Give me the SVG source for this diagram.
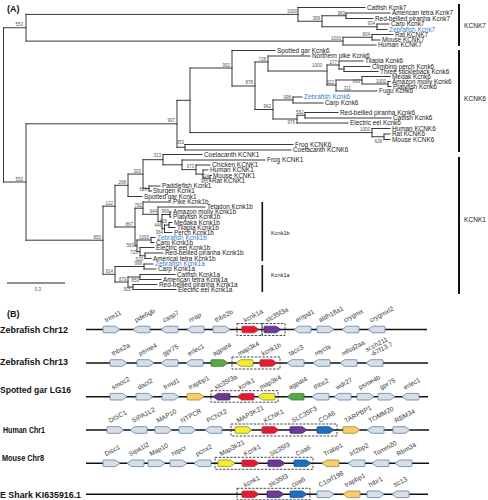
<svg xmlns="http://www.w3.org/2000/svg" xmlns:xlink="http://www.w3.org/1999/xlink" width="488" height="500" viewBox="0 0 488 500">
<style>
text{font-family:"Liberation Sans",Arial,sans-serif}
.br{fill:none;stroke:#222;stroke-width:0.9;stroke-linecap:square}
.lf{font-size:6.4px;fill:#222}
.bl{font-size:6.4px;fill:#3b7ec9}
.bs{font-size:4.5px;fill:#555;text-anchor:end}
.cl{font-size:6.6px;fill:#222}
.bar{fill:#111}
.hd{font-size:9px;font-weight:bold;fill:#111}
.rl{font-size:9px;font-weight:bold;fill:#111}
.chr{stroke:#111;stroke-width:1.6}
.box{fill:none;stroke:#333;stroke-width:0.9;stroke-dasharray:2.4 1.4}
.gl{font-size:6.6px;fill:#3a3a3a}
.g{fill:#dddddd;stroke:#5d8ec9;stroke-width:0.9}
.r{fill:#e8192c;stroke:#9a3a48;stroke-width:0.8}
.p{fill:#6a3a95;stroke:#4b2a70;stroke-width:0.8}
.y{fill:#f4ee2c;stroke:#8a8a3a;stroke-width:0.8}
.gn{fill:#5aa845;stroke:#3d7a30;stroke-width:0.8}
.o{fill:#f8cf66;stroke:#9a8446;stroke-width:0.8}
.b{fill:#1c6fc2;stroke:#1b4f8a;stroke-width:0.8}
</style>
<defs>
<path id="R" d="M0.8,-3.3H12.3L17,0L12.3,3.3H0.8Q0,3.3 0,2.5V-2.5Q0,-3.3 0.8,-3.3Z"/>
<path id="L" d="M16.2,-3.3H4.7L0,0L4.7,3.3H16.2Q17,3.3 17,2.5V-2.5Q17,-3.3 16.2,-3.3Z"/>
</defs>
<rect width="488" height="500" fill="#fff"/>
<text class="hd" x="7" y="12">(A)</text>
<g id="tree-branches" class="br">
<path d="M3.5,27.75V182M3.5,27.75H26M3.5,182H26"/>
<path d="M26,14.4V41.1M26,14.4H298M298,7.5V21.25M298,7.5H365M298,21.25H322M322,15.75V26.75M322,15.75H346M346,13V18.5M346,13H390M346,18.5H373M322,26.75H377M377,24V29.5M377,24H389M377,29.5H387M26,41.1H343M343,37.25V45M343,37.25H372M372,34.5V40M372,34.5H393M372,40H380M343,45H376"/>
<path d="M26,123.8V240.2M26,123.8H177M177,100.3V147.25M177,100.3H190M190,68V132.6M190,68H232M232,50.5V86M232,50.5H275M232,86H255M255,62V109.5M255,62H268M268,56V71M268,56H310M268,71H327M327,65V85M327,65H339M339,61V69M339,61H363M339,69H344M344,66.5V71.5M344,66.5H370M344,71.5H378M327,85H336M336,80V91M336,80H362M362,76.5V84M362,76.5H390M362,84H388M388,81.5V86.5M388,81.5H390M388,86.5H391M336,91H377"/>
<path d="M255,109.5H273M273,100V119M273,100H293M293,97V103M293,97H302M293,103H323M273,119H297M297,115.25V123M297,115.25H305M305,112.5V118M305,112.5H338M305,118H391M297,123H348M190,132.6H372M372,128.5V136.75M372,128.5H390M372,136.75H384M384,134V139.5M384,134H390M384,139.5H390M177,147.25H185M185,144.5V150M185,144.5H293M185,150H291"/>
<path d="M26,240.2H103M103,206.2V274.25M103,206.2H115M115,185.3V227M115,185.3H128M128,174.1V196.5M128,174.1H143M143,159.7V188.5M143,159.7H163M163,154.5V164.8M163,154.5H202M163,164.8H182M182,160V169.6M182,160H265M182,169.6H196M196,165V174.1M196,165H210M196,174.1H203M203,170V178.25M203,170H208M203,178.25H210M210,175.5V181M210,175.5H211.5M210,181H211M143,188.5H149M149,186V191M149,186H160M149,191H151.5M128,196.5H142"/>
<path d="M115,227H135M135,208.2V245.8M135,208.2H143M143,202V214.3M143,202H171M143,214.3H158M158,207V221.6M158,207H205M158,221.6H162M162,214.5V228.75M162,214.5H170M170,212V217M170,212H171M170,217H171M162,228.75H164.5M164.5,225V232.5M164.5,225H169M169,222.5V227.5M169,222.5H172M169,227.5H175M164.5,232.5H172M135,245.8H137M137,240V251.6M137,240H151M151,237.5V242.5M151,237.5H155M151,242.5H154M137,251.6H140M140,247.5V255.75M140,247.5H154M140,255.75H145M145,253V258.5M145,253H163M145,258.5H151"/>
<path d="M103,274.25H115M115,266.5V282M115,266.5H144M144,264V269M144,264H153M144,269H156M115,282H128M128,277V287M128,277H140M140,274.5V279.5M140,274.5H175M140,279.5H161M128,287H133M133,284.5V289.5M133,284.5H157M133,289.5H176"/>
</g>
<g id="clade-kcnk7">
<text class="lf" x="367" y="9.8">Catfish Kcnk7</text>
<text class="lf" x="392" y="15.3">American tetra Kcnk7</text>
<text class="lf" x="375" y="20.8">Red-bellied piranha Kcnk7</text>
<text class="lf" x="391" y="26.3">Carp Kcnk7</text>
<text class="bl" x="389" y="31.8">Zebrafish Kcnk7</text>
<text class="lf" x="395" y="36.8">Rat KCNK7</text>
<text class="lf" x="382" y="42.3">Mouse KCNK7</text>
<text class="lf" x="378" y="47.3">Human KCNK7</text>
</g>
<g id="clade-kcnk6">
<text class="lf" x="277" y="52.8">Spotted gar Kcnk6</text>
<text class="lf" x="312" y="58.3">Northern pike Kcnk6</text>
<text class="lf" x="365" y="63.3">Tilapia Kcnk6</text>
<text class="lf" x="372" y="68.8">Climbing perch Kcnk6</text>
<text class="lf" x="380" y="73.8">Three stickleback Kcnk6</text>
<text class="lf" x="392" y="78.8">Medak Kcnk6</text>
<text class="lf" x="392" y="83.8">Amazon molly Kcnk6</text>
<text class="lf" x="393" y="88.8">Platyfish Kcnk6</text>
<text class="lf" x="379" y="93.3">Fugu Kcnk6</text>
<text class="bl" x="304" y="99.3">Zebrafish Kcnk6</text>
<text class="lf" x="325" y="105.3">Carp Kcnk6</text>
<text class="lf" x="340" y="114.8">Red-bellied piranha Kcnk6</text>
<text class="lf" x="393" y="120.3">Catfish Kcnk6</text>
<text class="lf" x="350" y="125.3">Electric eel Kcnk6</text>
<text class="lf" x="392" y="130.8">Human KCNK6</text>
<text class="lf" x="392" y="136.3">Rat KCNK6</text>
<text class="lf" x="392" y="141.8">Mouse KCNK6</text>
<text class="lf" x="295" y="146.8">Frog KCNK6</text>
<text class="lf" x="293" y="152.3">Coelacanth KCNK6</text>
</g>
<g id="clade-kcnk1">
<text class="lf" x="204" y="156.8">Coelacanth KCNK1</text>
<text class="lf" x="267" y="162.3">Frog KCNK1</text>
<text class="lf" x="212" y="167.3">Chicken KCNK1</text>
<text class="lf" x="210" y="172.3">Human KCNK1</text>
<text class="lf" x="213" y="177.8">Mouse KCNK1</text>
<text class="lf" x="212" y="183.3">Rat KCNK1</text>
<text class="lf" x="162" y="188.3">Paddlefish Kcnk1</text>
<text class="lf" x="153" y="193.3">Sturgen Kcnk1</text>
<text class="lf" x="144" y="198.8">Spotted gar Kcnk1</text>
</g>
<g id="clade-kcnk1b">
<text class="lf" x="173" y="204.3">Pike Kcnk1b</text>
<text class="lf" x="207" y="209.3">Tetadon Kcnk1b</text>
<text class="lf" x="173" y="214.3">Amazon molly Kcnk1b</text>
<text class="lf" x="173" y="219.3">Platyfish Kcnk1b</text>
<text class="lf" x="174" y="224.6">Medaka Kcnk1b</text>
<text class="lf" x="177" y="229.7">Tilapia Kcnk1b</text>
<text class="lf" x="174" y="234.8">Perch Kcnk1b</text>
<text class="bl" x="157" y="239.8">Zebrafish Kcnk1b</text>
<text class="lf" x="156" y="244.8">Carp Kcnk1b</text>
<text class="lf" x="156" y="249.8">Electric eel Kcnk1b</text>
<text class="lf" x="165" y="255.3">Red-bellied piranha Kcnk1b</text>
<text class="lf" x="153" y="260.8">Americal tetra Kcnk1b</text>
</g>
<g id="clade-kcnk1a">
<text class="bl" x="155" y="266.3">Zebrafish Kcnk1a</text>
<text class="lf" x="158" y="271.3">Carp Kcnk1a</text>
<text class="lf" x="177" y="276.8">Catfish Kcnk1a</text>
<text class="lf" x="163" y="281.8">American tetra Kcnk1a</text>
<text class="lf" x="159" y="286.8">Red-bellied piranha Kcnk1a</text>
<text class="lf" x="178" y="291.8">Electric eel Kcnk1a</text>
</g>
<g id="bootstrap">
<text class="bs" x="297" y="13">1000</text>
<text class="bs" x="345" y="14.5">983</text>
<text class="bs" x="320" y="19.8">389</text>
<text class="bs" x="375" y="25.3">934</text>
<text class="bs" x="370" y="35.8">804</text>
<text class="bs" x="341" y="39.6">1000</text>
<text class="bs" x="23" y="26.3">553</text>
<text class="bs" x="230" y="66.5">992</text>
<text class="bs" x="253" y="84.3">878</text>
<text class="bs" x="266" y="60.5">728</text>
<text class="bs" x="322" y="67">1000</text>
<text class="bs" x="337" y="63.6">277</text>
<text class="bs" x="334" y="83.5">322</text>
<text class="bs" x="360" y="82.5">693</text>
<text class="bs" x="386" y="82.5">1000</text>
<text class="bs" x="351" y="89.5">311</text>
<text class="bs" x="291" y="98.5">998</text>
<text class="bs" x="271" y="108">962</text>
<text class="bs" x="303.5" y="113.8">582</text>
<text class="bs" x="295" y="123.5">976</text>
<text class="bs" x="370" y="131">1000</text>
<text class="bs" x="382" y="143">628</text>
<text class="bs" x="175" y="122.3">997</text>
<text class="bs" x="184" y="144">353</text>
<text class="bs" x="161" y="157">313</text>
<text class="bs" x="194" y="168.1">973</text>
<text class="bs" x="209" y="177.5">924</text>
<text class="bs" x="208.3" y="183.4">985</text>
<text class="bs" x="141" y="172.6">303</text>
<text class="bs" x="147" y="190.5">626</text>
<text class="bs" x="126" y="183.8">268</text>
<text class="bs" x="113" y="204.7">122</text>
<text class="bs" x="142" y="206.7">782</text>
<text class="bs" x="157" y="212.8">944</text>
<text class="bs" x="169" y="213">999</text>
<text class="bs" x="167" y="222.8">626</text>
<text class="bs" x="162" y="226.5">446</text>
<text class="bs" x="163" y="233.5">364</text>
<text class="bs" x="133" y="225.5">867</text>
<text class="bs" x="149" y="238.5">1000</text>
<text class="bs" x="134" y="246.5">583</text>
<text class="bs" x="137.5" y="253.5">725</text>
<text class="bs" x="143" y="260.5">520</text>
<text class="bs" x="101" y="238.7">850</text>
<text class="bs" x="142" y="265">998</text>
<text class="bs" x="113" y="272.7">914</text>
<text class="bs" x="126.5" y="280.5">879</text>
<text class="bs" x="139" y="281.5">850</text>
<text class="bs" x="131" y="291">505</text>
<text class="bs" x="23" y="180.5">553</text>
</g>
<g id="clade-bars">
<rect class="bar" x="458" y="4" width="2" height="42"/>
<text class="cl" x="464" y="28">KCNK7</text>
<rect class="bar" x="458" y="50" width="2" height="102"/>
<text class="cl" x="464" y="101">KCNK6</text>
<rect class="bar" x="458" y="157" width="2" height="137"/>
<text class="cl" x="464" y="222">KCNK1</text>
<rect class="bar" x="261.5" y="202" width="1.6" height="59"/>
<text class="cl" x="271" y="235" style="font-size:5.6px">Kcnk1b</text>
<rect class="bar" x="261.5" y="265" width="1.6" height="27"/>
<text class="cl" x="271" y="277" style="font-size:5.6px">Kcnk1a</text>
</g>
<g id="scale">
<path d="M7,283H65" stroke="#222" stroke-width="1"/>
<text class="bs" x="38" y="291" style="text-anchor:middle">0.3</text>
</g>

<text class="hd" x="7" y="317">(B)</text>
<g id="row-labels">
<text class="rl" x="0" y="332.5" textLength="68" lengthAdjust="spacingAndGlyphs">Zebrafish Chr12</text>
<text class="rl" x="0" y="365" textLength="68" lengthAdjust="spacingAndGlyphs">Zebrafish Chr13</text>
<text class="rl" x="0" y="392.5" textLength="71" lengthAdjust="spacingAndGlyphs">Spotted gar LG16</text>
<text class="rl" x="3" y="432.5" textLength="42" lengthAdjust="spacingAndGlyphs">Human Chr1</text>
<text class="rl" x="2" y="461" textLength="42" lengthAdjust="spacingAndGlyphs">Mouse Chr8</text>
<text class="rl" x="0" y="497.5" textLength="81" lengthAdjust="spacingAndGlyphs">E Shark KI635916.1</text>
</g>
<g id="chromosomes">
<path class="chr" d="M86,329.5H427M86,363H428M86,396.7H428M86,430H429M86,463.3H429M86,494.3H428"/>
</g>
<g id="boxes">
<rect class="box" x="237" y="323.5" width="25" height="12"/>
<rect class="box" x="262" y="323.5" width="23" height="12"/>
<rect class="box" x="232" y="357" width="48" height="12"/>
<rect class="box" x="211" y="390.7" width="67" height="11.5"/>
<rect class="box" x="231" y="424" width="106" height="12"/>
<rect class="box" x="215" y="457.3" width="98" height="12"/>
<rect class="box" x="237" y="488.3" width="73" height="11.5"/>
</g>
<g id="row1">
<use href="#R" x="103" y="329.5" class="g"/>
<use href="#L" x="133" y="329.5" class="g"/>
<use href="#L" x="161" y="329.5" class="g"/>
<use href="#L" x="187" y="329.5" class="g"/>
<use href="#R" x="213" y="329.5" class="g"/>
<use href="#R" x="242" y="329.5" class="r"/>
<use href="#R" x="264" y="329.5" class="p"/>
<use href="#L" x="294" y="329.5" class="g"/>
<use href="#R" x="317" y="329.5" class="g"/>
<use href="#L" x="342" y="329.5" class="g"/>
<use href="#L" x="368" y="329.5" class="g"/>
<g class="gl">
<text transform="translate(106,322.5) rotate(-28)">trim11</text>
<text transform="translate(136,322.5) rotate(-28)">pde6gb</text>
<text transform="translate(164,322.5) rotate(-28)">casp7</text>
<text transform="translate(190,322.5) rotate(-28)">nrap</text>
<text transform="translate(216,322.5) rotate(-28)">thbs2b</text>
<text transform="translate(245,322.5) rotate(-28)">kcnk1a</text>
<text transform="translate(267,322.5) rotate(-28)">slc35f3a</text>
<text transform="translate(297,322.5) rotate(-28)">entpd1</text>
<text transform="translate(320,322.5) rotate(-28)">aldh18a1</text>
<text transform="translate(345,322.5) rotate(-28)">crygmx</text>
<text transform="translate(371,322.5) rotate(-28)">crygmxl2</text>
</g>
</g>
<g id="row2">
<use href="#R" x="110" y="363" class="g"/>
<use href="#R" x="137" y="363" class="g"/>
<use href="#L" x="161" y="363" class="g"/>
<use href="#L" x="186" y="363" class="g"/>
<use href="#R" x="211" y="363" class="gn"/>
<use href="#L" x="236" y="363" class="y"/>
<use href="#R" x="260" y="363" class="r"/>
<use href="#L" x="287" y="363" class="g"/>
<use href="#L" x="313" y="363" class="g"/>
<use href="#L" x="340" y="363" class="g"/>
<use href="#L" x="366" y="363" class="g"/>
<g class="gl">
<text transform="translate(113,356) rotate(-28)">thbs2a</text>
<text transform="translate(140,356) rotate(-28)">psme4</text>
<text transform="translate(164,356) rotate(-28)">gpr75</text>
<text transform="translate(189,356) rotate(-28)">erlec1</text>
<text transform="translate(214,356) rotate(-28)">agpat4</text>
<text transform="translate(239,356) rotate(-28)">map3k4</text>
<text transform="translate(263,356) rotate(-28)">kcnk1b</text>
<text transform="translate(290,356) rotate(-28)">tacc3</text>
<text transform="translate(316,356) rotate(-28)">mycla</text>
<text transform="translate(343,356) rotate(-28)">mfsd2aa</text>
<text transform="translate(367,352) rotate(-28)">si:ch211<tspan x="2" dy="6.5">-67f13.7</tspan></text>
</g>
</g>
<g id="row3">
<use href="#R" x="110" y="396.7" class="g"/>
<use href="#R" x="136" y="396.7" class="g"/>
<use href="#R" x="162" y="396.7" class="g"/>
<use href="#R" x="187" y="396.7" class="o"/>
<use href="#L" x="213" y="396.7" class="p"/>
<use href="#L" x="237" y="396.7" class="r"/>
<use href="#L" x="258" y="396.7" class="y"/>
<use href="#L" x="287" y="396.7" class="gn"/>
<use href="#L" x="312" y="396.7" class="g"/>
<use href="#L" x="334" y="396.7" class="g"/>
<use href="#R" x="357" y="396.7" class="g"/>
<use href="#R" x="378" y="396.7" class="g"/>
<use href="#L" x="402" y="396.7" class="g"/>
<g class="gl">
<text transform="translate(113,389.7) rotate(-28)">smoc2</text>
<text transform="translate(139,389.7) rotate(-28)">dact2</text>
<text transform="translate(165,389.7) rotate(-28)">frmd1</text>
<text transform="translate(190,389.7) rotate(-28)">trapbp1</text>
<text transform="translate(216,389.7) rotate(-28)">slc35f3a</text>
<text transform="translate(240,389.7) rotate(-28)">kcnk1</text>
<text transform="translate(261,389.7) rotate(-28)">map3k4</text>
<text transform="translate(290,389.7) rotate(-28)">agpat4</text>
<text transform="translate(315,389.7) rotate(-28)">thbs2</text>
<text transform="translate(337,389.7) rotate(-28)">wdr27</text>
<text transform="translate(360,389.7) rotate(-28)">psme4b</text>
<text transform="translate(381,389.7) rotate(-28)">gpr75</text>
<text transform="translate(405,389.7) rotate(-28)">erlec1</text>
</g>
</g>
<g id="row4">
<use href="#R" x="107" y="430" class="g"/>
<use href="#L" x="130" y="430" class="g"/>
<use href="#R" x="155" y="430" class="g"/>
<use href="#R" x="179" y="430" class="g"/>
<use href="#L" x="205" y="430" class="g"/>
<use href="#R" x="235" y="430" class="y"/>
<use href="#R" x="262" y="430" class="r"/>
<use href="#R" x="290" y="430" class="p"/>
<use href="#R" x="317" y="430" class="b"/>
<use href="#R" x="343" y="430" class="o"/>
<use href="#L" x="367" y="430" class="g"/>
<use href="#R" x="393" y="430" class="g"/>
<g class="gl">
<text transform="translate(110,423) rotate(-28)">DISC1</text>
<text transform="translate(133,423) rotate(-28)">SIPA1L2</text>
<text transform="translate(158,423) rotate(-28)">MAP10</text>
<text transform="translate(182,423) rotate(-28)">NTPCR</text>
<text transform="translate(208,423) rotate(-28)">PCNX2</text>
<text transform="translate(238,423) rotate(-28)">MAP3K21</text>
<text transform="translate(265,423) rotate(-28)">KCNK1</text>
<text transform="translate(293,423) rotate(-28)">SLC35F3</text>
<text transform="translate(320,423) rotate(-28)">COA6</text>
<text transform="translate(346,423) rotate(-28)">TARPBP1</text>
<text transform="translate(370,423) rotate(-28)">TOMM20</text>
<text transform="translate(396,423) rotate(-28)">RBM34</text>
</g>
</g>
<g id="row5">
<use href="#R" x="103" y="463.3" class="g"/>
<use href="#L" x="127" y="463.3" class="g"/>
<use href="#R" x="148" y="463.3" class="g"/>
<use href="#R" x="170" y="463.3" class="g"/>
<use href="#L" x="194" y="463.3" class="g"/>
<use href="#R" x="218" y="463.3" class="y"/>
<use href="#R" x="242" y="463.3" class="r"/>
<use href="#R" x="268" y="463.3" class="p"/>
<use href="#R" x="294" y="463.3" class="b"/>
<use href="#L" x="322" y="463.3" class="o"/>
<use href="#L" x="348" y="463.3" class="g"/>
<use href="#L" x="372" y="463.3" class="g"/>
<use href="#L" x="395" y="463.3" class="g"/>
<g class="gl">
<text transform="translate(106,456.3) rotate(-28)">Disc1</text>
<text transform="translate(130,456.3) rotate(-28)">Sipa1l2</text>
<text transform="translate(151,456.3) rotate(-28)">Map10</text>
<text transform="translate(173,456.3) rotate(-28)">Ntpcr</text>
<text transform="translate(197,456.3) rotate(-28)">pcnx2</text>
<text transform="translate(221,456.3) rotate(-28)">Map3k21</text>
<text transform="translate(245,456.3) rotate(-28)">Kcnk1</text>
<text transform="translate(271,456.3) rotate(-28)">Slc35f3</text>
<text transform="translate(297,456.3) rotate(-28)">Coa6</text>
<text transform="translate(325,456.3) rotate(-28)">Trabp1</text>
<text transform="translate(351,456.3) rotate(-28)">Irf2bp2</text>
<text transform="translate(375,456.3) rotate(-28)">Tomm20</text>
<text transform="translate(398,456.3) rotate(-28)">Rbm34</text>
</g>
</g>
<g id="row6">
<use href="#R" x="242" y="494.3" class="r"/>
<use href="#R" x="267" y="494.3" class="p"/>
<use href="#R" x="290" y="494.3" class="b"/>
<use href="#R" x="317" y="494.3" class="g"/>
<use href="#L" x="343" y="494.3" class="o"/>
<use href="#R" x="367" y="494.3" class="g"/>
<use href="#L" x="392" y="494.3" class="g"/>
<g class="gl">
<text transform="translate(245,487.3) rotate(-28)">kcnk1</text>
<text transform="translate(270,487.3) rotate(-28)">slc35f3</text>
<text transform="translate(293,487.3) rotate(-28)">coa6</text>
<text transform="translate(320,487.3) rotate(-28)">C1orf198</text>
<text transform="translate(346,487.3) rotate(-28)">trapbp1</text>
<text transform="translate(370,487.3) rotate(-28)">htbr1</text>
<text transform="translate(395,487.3) rotate(-28)">ttc13</text>
</g>
</g>
</svg>
